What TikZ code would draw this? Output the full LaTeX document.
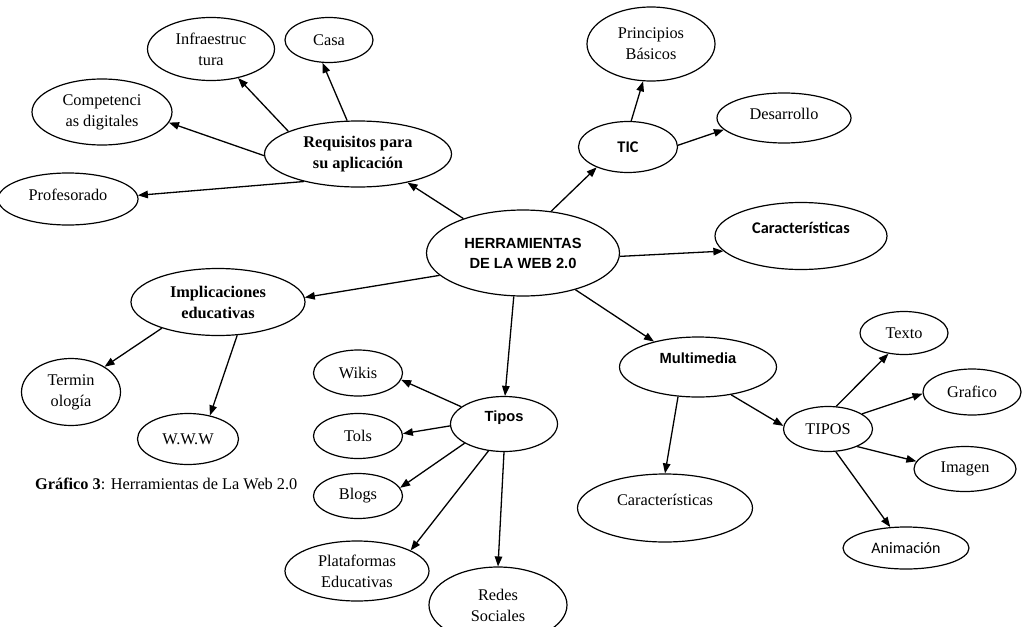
\documentclass[tikz,border=0pt]{standalone}
\usepackage{fontspec}
\setmainfont{Liberation Serif}
\setsansfont{Liberation Sans}
\newfontfamily\calibrifont{Carlito}
\usetikzlibrary{arrows.meta,positioning,shapes.geometric}
\newcommand{\lift}[2]{\raisebox{#1}[\height][\depth]{#2}}

\begin{document}
\begin{tikzpicture}[
  x=1pt, y=-1pt,
  on grid,
  idea/.style={ellipse, draw=black, line width=1.2pt, inner sep=0pt, align=center, font=\fontsize{16.3}{21}\selectfont},
  ell/.style 2 args={minimum width=#1pt, minimum height=#2pt},
  hub/.style={idea, font=\sffamily\bfseries\fontsize{14.7}{20}\selectfont},
  sansb/.style={idea, font=\sffamily\bfseries\fontsize{14.7}{20}\selectfont},
  serifb/.style={idea, font=\bfseries\fontsize{16.3}{21}\selectfont},
  cal/.style={idea, font=\calibrifont\fontsize{16}{20}\selectfont},
  calb/.style={idea, font=\calibrifont\bfseries\fontsize{16.3}{20}\selectfont},
  arrow/.style={-{Triangle[length=10pt,width=7.5pt]}, line width=1.3pt}
]
\useasboundingbox (0,0) rectangle (1032,626);
\clip (0,0) rectangle (1032,626);

\node[hub, ell={193}{86}] (herr) at (523,253) {HERRAMIENTAS\\DE LA WEB 2.0};

\node[serifb, ell={187}{66}, above left=99pt and 165pt of herr] (req) {Requisitos para\\su aplicación};
\node[idea, ell={127}{63}, above left=105pt and 147pt of req] (infra) {Infraestruc\\tura};
\node[idea, ell={88}{45}, above left=114pt and 29pt of req] (casa) {Casa};
\node[idea, ell={140}{66}, above left=42pt and 256pt of req] (comp) {Competenci\\as digitales};
\node[idea, ell={140}{52}, below left=45pt and 290pt of req] (prof) {\lift{4pt}{Profesorado}};

\node[calb, ell={99}{51}, above right=106pt and 105pt of herr] (tic) {TIC};
\node[idea, ell={128}{74}, above right=103pt and 23pt of tic] (princ) {Principios\\Básicos};
\node[idea, ell={134}{50}, above right=29pt and 156pt of tic] (desa) {\lift{4pt}{Desarrollo}};
\node[calb, ell={172}{67}, above right=17pt and 278pt of herr] (caract) {\lift{8pt}{Características}};

\node[serifb, ell={174}{67}, below left=49pt and 305pt of herr] (impl) {Implicaciones\\educativas};
\node[idea, ell={99}{67}, below left=90pt and 147pt of impl] (term) {Termin\\ología};
\node[idea, ell={101}{51}, below left=137pt and 30pt of impl] (www) {W.W.W};

\node[sansb, ell={107}{55}, below left=171pt and 19pt of herr] (tipos) {\lift{6pt}{Tipos}};
\node[idea, ell={89}{46}, above left=51pt and 146pt of tipos] (wikis) {Wikis};
\node[idea, ell={89}{45}, below left=12pt and 146pt of tipos] (tols) {Tols};
\node[idea, ell={89}{45}, below left=72pt and 146pt of tipos] (blogs) {Blogs};
\node[idea, ell={144}{60}, below left=147pt and 147pt of tipos] (plat) {Plataformas\\Educativas};
\node[idea, ell={138}{76}, below left=181pt and 6pt of tipos] (redes) {Redes\\Sociales};

\node[sansb, ell={157}{60}, below right=114pt and 175pt of herr] (multi) {\lift{9pt}{Multimedia}};
\node[idea, ell={175}{68}, below left=141pt and 33pt of multi] (caract2) {\lift{8pt}{Características}};
\node[idea, ell={89}{45}, below right=62pt and 130pt of multi] (tiposm) {TIPOS};
\node[idea, ell={88}{43}, above right=96pt and 76pt of tiposm] (texto) {Texto};
\node[idea, ell={98}{46}, above right=37pt and 144pt of tiposm] (graf) {Grafico};
\node[idea, ell={102}{45}, below right=40pt and 137pt of tiposm] (img) {Imagen};
\node[cal, ell={126}{42}, below right=119pt and 78pt of tiposm] (anim) {Animación};

\node[anchor=west, inner sep=0pt, font=\fontsize{16.3}{21}\selectfont] (caption) at (35,484) {\textbf{Gráfico 3}: Herramientas de La Web 2.0};

\draw[arrow] (herr.150) -- (req.-30);
\draw[arrow] (req.162) -- (infra.-47);
\draw[arrow] (req.108) -- (casa.254);
\draw[arrow] (req.181) -- (comp.-9);
\draw[arrow] (req.207) -- (prof.3);
\draw[arrow] (herr.56) -- (tic.213);
\draw[arrow] (tic.83) -- (princ.258);
\draw[arrow] (tic.2) -- (desa.191);
\draw[arrow] (herr.-2) -- (caract.191);
\draw[arrow] (herr.195) -- (impl.3);
\draw[arrow] (impl.205) -- (term.37);
\draw[arrow] (impl.-60) -- (www.47);
\draw[arrow] (herr.258) -- (tipos.88);
\draw[arrow] (tipos.158) -- (wikis.-9);
\draw[arrow] (tipos.182) -- (tols.3);
\draw[arrow] (tipos.206) -- (blogs.11);
\draw[arrow] (tipos.240) -- (plat.21);
\draw[arrow] (tipos.270) -- (redes.90);
\draw[arrow] (herr.-35) -- (multi.150);
\draw[arrow] (multi.236) -- (caract2.90);
\draw[arrow] (multi.-40) -- (tiposm.176);
\draw[arrow] (tiposm.70) -- (texto.233);
\draw[arrow] (tiposm.24) -- (graf.182);
\draw[arrow] (tiposm.-31) -- (img.171);
\draw[arrow] (tiposm.-71) -- (anim.127);
\end{tikzpicture}
\end{document}
